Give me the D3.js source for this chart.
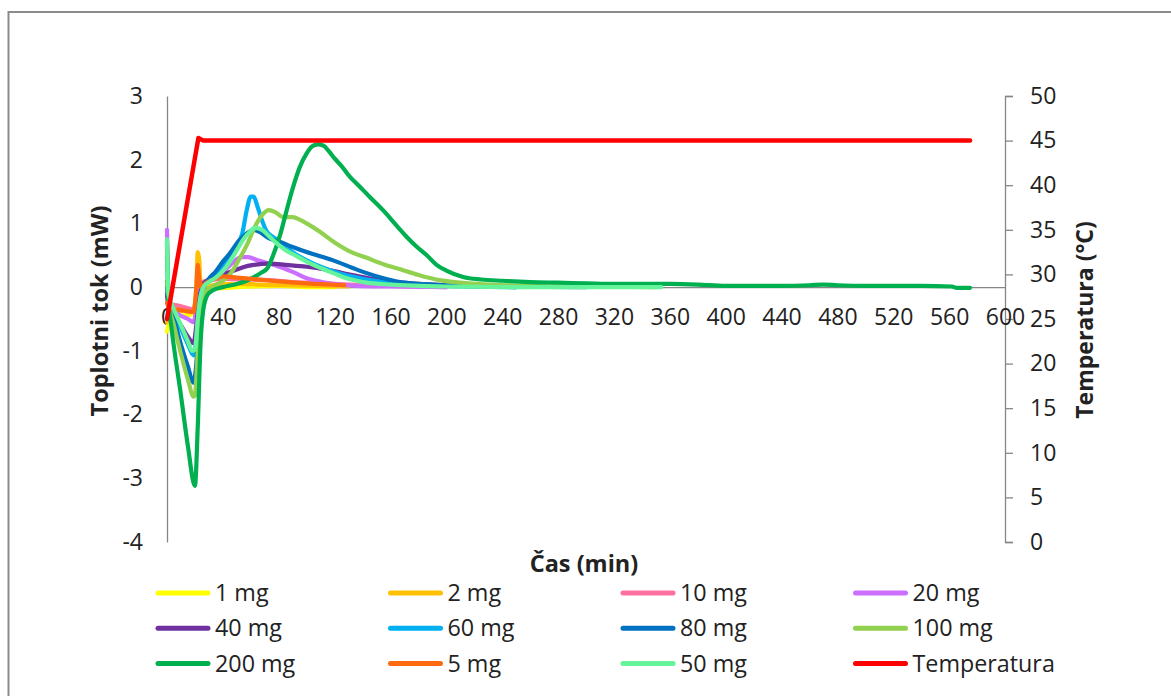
<!DOCTYPE html>
<html>
<head>
<meta charset="utf-8">
<script src="https://cdn.jsdelivr.net/npm/d3@7"></script>
<style>
  html, body { margin: 0; padding: 0; background: #fff; }
  svg { display: block; }
  text { font-family: "Open Sans", "Noto Sans", sans-serif; fill: #222; }
</style>
</head>
<body>
<svg id="chart" width="1171" height="696"></svg>
<script>
// Heat flow (mW) over time (min) for each sample mass, plus chamber temperature (°C)
const names = ["1 mg", "2 mg", "10 mg", "20 mg", "40 mg", "60 mg", "80 mg", "100 mg", "200 mg", "5 mg", "50 mg"];

const t1 = [0, 2, 10, 19, 21, 23, 26, 35, 50, 80, 100, 120];
const q1 = [-0.7, -0.5, -0.45, -0.42, -0.1, 0.05, 0.0, -0.02, 0.0, 0.02, 0.0, 0.0];

const t2 = [0, 2, 10, 19, 21, 22, 23, 24, 27, 35, 50, 80, 110, 130];
const q2 = [-0.55, -0.45, -0.38, -0.35, 0.0, 0.55, 0.45, 0.05, 0.0, 0.04, 0.05, 0.03, 0.02, 0.01];

const t10 = [0, 1, 10, 19, 21, 23, 28, 40, 60, 80, 90, 100, 120, 140, 160, 200];
const q10 = [-0.1, -0.25, -0.3, -0.35, -0.2, 0.05, 0.1, 0.13, 0.12, 0.1, 0.08, 0.07, 0.05, 0.03, 0.02, 0.0];

const t20 = [0, 1, 3, 10, 15, 19, 21, 23, 27, 35, 42, 48, 53, 58, 65, 75, 83, 90, 100, 107, 120, 135, 160, 200];
const q20 = [0.9, 0.0, -0.3, -0.45, -0.5, -0.55, -0.35, -0.05, 0.05, 0.15, 0.28, 0.4, 0.47, 0.47, 0.42, 0.36, 0.3, 0.24, 0.14, 0.1, 0.05, 0.02, 0.01, 0.0];

const t40 = [0, 1, 5, 10, 15, 19, 21, 23, 26, 30, 40, 48, 54, 62, 74, 85, 100, 115, 133, 150, 165, 180, 200, 250];
const q40 = [-0.1, -0.3, -0.45, -0.6, -0.78, -0.88, -0.6, -0.2, 0.05, 0.12, 0.2, 0.26, 0.31, 0.35, 0.37, 0.35, 0.32, 0.27, 0.19, 0.12, 0.08, 0.05, 0.03, 0.0];

const t60 = [0, 1, 5, 10, 15, 19, 21, 23, 26, 30, 35, 40, 45, 50, 54, 57, 60, 62, 65, 68, 71, 75, 79, 85, 90, 100, 110, 120, 140, 160, 180, 200, 250];
const q60 = [0.0, -0.15, -0.4, -0.65, -0.9, -1.07, -0.8, -0.3, 0.0, 0.1, 0.22, 0.35, 0.5, 0.65, 0.85, 1.2, 1.42, 1.42, 1.25, 1.05, 0.89, 0.8, 0.74, 0.64, 0.55, 0.42, 0.32, 0.24, 0.13, 0.07, 0.04, 0.02, 0.0];

const t80 = [0, 1, 5, 10, 15, 19, 21, 23, 25, 29, 35, 40, 45, 52, 57, 62, 67, 72, 81, 90, 100, 119, 133, 143, 155, 167, 180, 200, 240, 300];
const q80 = [0.0, -0.2, -0.5, -0.9, -1.25, -1.5, -1.2, -0.5, -0.1, 0.1, 0.25, 0.4, 0.53, 0.74, 0.84, 0.9, 0.86, 0.78, 0.71, 0.63, 0.55, 0.42, 0.3, 0.22, 0.14, 0.08, 0.05, 0.03, 0.01, 0.0];

const t100 = [0, 1, 5, 10, 15, 19, 20, 22, 24, 27, 32, 40, 45, 52, 58, 63, 68, 73, 78, 83, 90, 95, 100, 110, 120, 130, 143, 155, 167, 180, 195, 210, 230, 260, 300, 350];
const q100 = [0.1, -0.2, -0.6, -1.05, -1.45, -1.72, -1.7, -1.0, -0.3, -0.08, 0.0, 0.1, 0.2, 0.45, 0.7, 0.95, 1.13, 1.21, 1.17, 1.1, 1.1, 1.06, 1.0, 0.86, 0.7, 0.57, 0.46, 0.36, 0.28, 0.19, 0.11, 0.07, 0.04, 0.02, 0.01, 0.0];

const t200 = [0, 1, 3, 10, 15, 20, 22, 24, 26, 29, 33, 40, 50, 57, 67, 72, 76, 81, 85, 90, 95, 100, 104, 108, 112, 116, 120, 125, 131, 137, 145, 155, 165, 172, 179, 186, 193, 200, 212, 225, 240, 260, 280, 300, 320, 340, 360, 380, 400, 440, 460, 470, 480, 500, 540, 562, 565, 575];
const q200 = [0.7, -0.2, -0.6, -1.7, -2.5, -3.12, -2.2, -0.9, -0.35, -0.12, -0.05, 0.0, 0.05, 0.1, 0.22, 0.3, 0.5, 0.82, 1.15, 1.55, 1.88, 2.1, 2.21, 2.24, 2.22, 2.13, 2.02, 1.9, 1.73, 1.6, 1.42, 1.2, 0.95, 0.78, 0.63, 0.5, 0.35, 0.26, 0.16, 0.12, 0.1, 0.08, 0.07, 0.06, 0.05, 0.05, 0.05, 0.04, 0.02, 0.02, 0.03, 0.04, 0.03, 0.02, 0.02, 0.01, -0.01, -0.01];

const t5 = [0, 2, 10, 19, 21, 22, 23, 24, 27, 33, 40, 50, 60, 80, 100, 127];
const q5 = [-0.25, -0.33, -0.36, -0.39, 0.0, 0.35, 0.15, 0.0, 0.05, 0.12, 0.17, 0.15, 0.13, 0.09, 0.06, 0.03];

const t50 = [0, 1, 5, 10, 15, 18, 20, 22, 24, 26, 30, 35, 40, 45, 50, 55, 59, 63, 68, 73, 79, 85, 90, 95, 100, 110, 119, 130, 143, 160, 200, 250, 300, 354];
const q50 = [0.75, -0.1, -0.35, -0.6, -0.85, -1.0, -0.98, -0.5, -0.15, 0.0, 0.08, 0.15, 0.25, 0.4, 0.58, 0.76, 0.86, 0.93, 0.9, 0.8, 0.68, 0.58, 0.52, 0.46, 0.4, 0.3, 0.22, 0.13, 0.07, 0.04, 0.01, 0.0, 0.0, 0.0];

const tTemp = [0, 22.5, 26, 575];
const temp = [25, 45.3, 45, 45];

const times = [t1, t2, t10, t20, t40, t60, t80, t100, t200, t5, t50];
const flows = [q1, q2, q10, q20, q40, q60, q80, q100, q200, q5, q50];
const colors = ["#FFFF00", "#FFC000", "#FF6F9F", "#CC6FFF", "#7030A0", "#00B0F0", "#0070C0", "#92D050", "#00B050", "#FF6A10", "#66F49A"];
const tempName = "Temperatura";
const tempColor = "#FF0000";

const xTicks = d3.range(0, 601, 40);
const yLeftTicks = d3.range(-4, 4, 1);
const yRightTicks = d3.range(0, 51, 5);

const svg = d3.select("#chart");
const axisColor = "#868686";

// frame around the chart area
svg.append("rect")
  .attr("x", 8.5).attr("y", 12).attr("width", 1200).attr("height", 720)
  .attr("fill", "none").attr("stroke", "#8c8c8c").attr("stroke-width", 2);

const x = d3.scaleLinear().domain([0, 600]).range([167, 1005]);
const yL = d3.scaleLinear().domain([-4, 3]).range([542, 96]);
const yR = d3.scaleLinear().domain([0, 50]).range([542, 96]);

// left axis (no tick marks, labels only; plain hyphen for negatives)
const gL = svg.append("g").attr("transform", `translate(${x(0)},0)`)
  .call(d3.axisLeft(yL).tickValues(yLeftTicks).tickSize(0).tickPadding(24).tickFormat(d => String(d)));
// right axis
const gR = svg.append("g").attr("transform", `translate(${x(600)},0)`)
  .call(d3.axisRight(yR).tickValues(yRightTicks).tickSize(8).tickPadding(17));
// horizontal axis at zero flow
const gX = svg.append("g").attr("transform", `translate(0,${yL(0)})`)
  .call(d3.axisBottom(x).tickValues(xTicks).tickSize(0).tickPadding(26));

[gL, gR, gX].forEach(g => {
  g.select(".domain").attr("stroke", axisColor).attr("stroke-width", 1.3);
  g.selectAll(".tick line").attr("stroke", axisColor).attr("stroke-width", 1.3);
  g.selectAll(".tick text").attr("font-size", 23).attr("fill", "#222")
    .attr("font-family", "'Open Sans', sans-serif");
});
gX.selectAll(".tick text").attr("dy", "0.5em");

// heat-flow curves
const line = d3.line().curve(d3.curveMonotoneX);
const plot = svg.append("g");
names.forEach((n, i) => {
  const pts = times[i].map((t, k) => [x(t), yL(flows[i][k])]);
  plot.append("path").attr("d", line(pts))
    .attr("fill", "none").attr("stroke", colors[i]).attr("stroke-width", 4.2)
    .attr("stroke-linejoin", "round").attr("stroke-linecap", "round");
});

// temperature on secondary axis
const tLine = d3.line();
plot.append("path")
  .attr("d", tLine(tTemp.map((t, k) => [x(t), yR(temp[k])])))
  .attr("fill", "none").attr("stroke", tempColor).attr("stroke-width", 4.5)
  .attr("stroke-linejoin", "round").attr("stroke-linecap", "round");

// axis titles
svg.append("text").attr("transform", "translate(108,311) rotate(-90)")
  .attr("text-anchor", "middle").attr("font-weight", "bold").attr("font-size", 23.5)
  .text("Toplotni tok (mW)");
svg.append("text").attr("transform", "translate(1093,320) rotate(-90)")
  .attr("text-anchor", "middle").attr("font-weight", "bold").attr("font-size", 23)
  .text("Temperatura (°C)");
svg.append("text").attr("x", 584).attr("y", 572)
  .attr("text-anchor", "middle").attr("font-weight", "bold").attr("font-size", 23.5)
  .text("Čas (min)");

// legend: 4 columns x 3 rows
const legendNames = names.concat([tempName]);
const legendColors = colors.concat([tempColor]);
const lg = svg.append("g");
legendNames.forEach((n, i) => {
  const col = i % 4, row = Math.floor(i / 4);
  const lx = 158 + col * 232.5, ly = 593 + row * 35.3;
  lg.append("line").attr("x1", lx).attr("x2", lx + 50).attr("y1", ly).attr("y2", ly)
    .attr("stroke", legendColors[i]).attr("stroke-width", 5).attr("stroke-linecap", "round");
  lg.append("text").attr("x", lx + 57).attr("y", ly).attr("dy", "0.35em")
    .attr("font-size", 23.3).text(n);
});
</script>
</body>
</html>
